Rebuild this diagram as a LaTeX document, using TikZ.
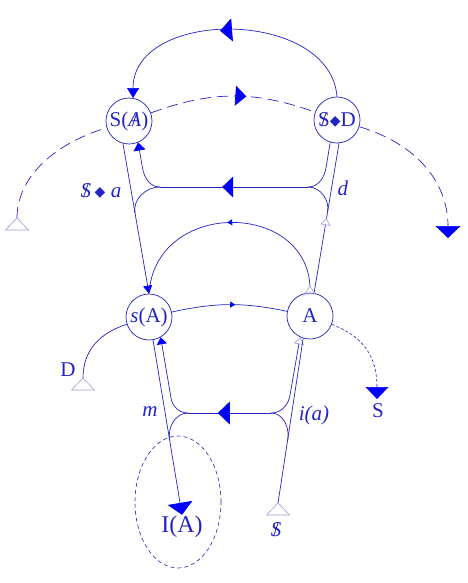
\documentclass[tikz,border=0pt]{standalone}
\usepackage{fontspec}
\setmainfont{Liberation Serif}
\newfontfamily\dejavu{DejaVu Sans}
\usetikzlibrary{arrows.meta, decorations.markings}
\definecolor{graphblue}{RGB}{35,35,195}
\definecolor{tipblue}{RGB}{0,0,250}
\definecolor{tailgrey}{RGB}{160,160,215}
\newcommand{\barS}{\ooalign{S\cr\hidewidth/\hidewidth}}
\newcommand{\barSit}{\ooalign{\textit{S}\cr\hidewidth/\hidewidth}}
\newcommand{\barA}{\ooalign{\textit{A}\cr\hidewidth/\hidewidth}}
\newcommand{\diam}{\raisebox{1pt}{\dejavu\fontsize{14}{14}\selectfont ◆}}
\newcommand{\tailtri}[3]{\draw[tailline] (#1) -- ++(-#2,-#3) -- ++(2*#2,0) -- cycle;}

\begin{document}
\begin{tikzpicture}[x=1pt, y=1pt, line width=0.7pt, color=graphblue,
  spot/.style={draw=graphblue, circle, minimum size=46pt, inner sep=0pt, font=\fontsize{21}{23}\selectfont},
  lbl/.style={inner sep=1pt, font=\fontsize{21}{23}\selectfont},
  tailline/.style={draw=tailgrey, line width=0.6pt},
  bigdash/.style={dash pattern=on 11pt off 6pt},
  endtip/.style 2 args={-{Triangle[width=#1, length=#2, color=tipblue]}},
  hollowtip/.style={-{Triangle[width=10pt, length=7pt, color=tailgrey, fill=white, line width=0.6pt]}},
  midtip/.style n args={3}{postaction={decorate}, decoration={markings,
      mark=at position #1 with {\arrow{Triangle[width=#2, length=#3, color=tipblue]}}}},
  midhollow/.style={postaction={decorate}, decoration={markings,
      mark=at position #1 with {\arrow{Triangle[width=10pt, length=7pt, color=tailgrey, fill=white, line width=0.6pt]}}}}
]
\useasboundingbox (0,0) rectangle (467,-583);

% the four places
\node[spot] (SA) at (129,-121) {S(\barA)};
\node[spot] (DS) at (337,-120) {\barS\diam D};
\node[spot] (sA) at (149,-317) {\textit{s}(A)};
\node[spot] (A)  at (310,-316) {A};

% free ends and joints
\coordinate (tLd) at (17,-218);
\coordinate (tD)  at (83,-378);
\coordinate (tS)  at (278,-503);
\coordinate (tAt) at (310,-286);
\coordinate (eRd) at (448,-238);
\coordinate (eS)  at (377,-399);
\coordinate (uL)  at (160,-187);
\coordinate (uR)  at (308,-187);
\coordinate (hUL) at (142.5,-168);
\coordinate (jUL) at (135,-213);
\coordinate (hUR) at (326,-168);
\coordinate (jUR) at (327.6,-212);
\coordinate (lL)  at (188,-413);
\coordinate (lR)  at (271,-413);
\coordinate (hLL) at (171,-398);
\coordinate (jLL) at (169.6,-440);
\coordinate (hLR) at (290,-395);
\coordinate (jLR) at (287.8,-440);

% labels
\node[lbl] (IA)  at (182,-527) {\fontsize{24}{26}\selectfont I(A)};
\node[lbl] (lSa) at (101,-191) {\barSit\,\diam\ \textit{a}};
\node[lbl] (ld)  at (343,-188) {\textit{d}};
\node[lbl] (lm)  at (150,-412) {\textit{m}};
\node[lbl] (lia) at (314,-415) {\textit{i(a)}};
\node[lbl] (lD)  at (68,-370) {D};
\node[lbl] (lS)  at (378,-411) {S};
\node[lbl] (lbS) at (276,-530) {\barSit};

% upper arc
\draw[endtip={12pt}{10pt}, midtip={0.55}{23pt}{12pt}] (DS.north) .. controls (330,-8) and (133,-8) .. (SA.80);

% dashed arc
\draw[bigdash] (tLd) .. controls (17,-180) and (50,-145) .. (SA);
\draw[bigdash, midtip={0.58}{20pt}{11pt}] (SA) to[bend left=20] (DS);
\draw[bigdash, endtip={25pt}{12pt}] (DS) .. controls (420,-145) and (448,-185) .. (eRd);

% upper band
\draw[midtip={0.58}{21pt}{11pt}] (uR) -- (uL);
\draw[endtip={12pt}{8pt}] (uL) to[out=180, in=-80] (hUL) -- (SA.293);
\draw (uL) to[out=180, in=100] (jUL);
\draw (uR) to[out=0, in=-100] (hUR) -- (DS.253);
\draw (uR) to[out=0, in=80] (jUR);
\draw[midhollow=0.5] (A.80) -- (DS.275);

% left vector
\draw[endtip={9pt}{8pt}] (SA.255) -- (sA.north);
\draw[endtip={25pt}{12pt}] (sA.280) -- (IA.north);
\draw[dash pattern=on 4pt off 3pt, line width=0.6pt] (178,-502) ellipse [x radius=43, y radius=66];

% middle arcs
\draw[midtip={0.5}{6pt}{5pt}] (tAt) .. controls (305,-200) and (155,-200) .. (sA.north);
\draw[midtip={0.55}{6pt}{5pt}] (sA) to[bend left=12] (A);

% lower band
\draw[midtip={0.64}{23pt}{12pt}] (lR) -- (lL);
\draw[endtip={10pt}{7pt}] (lL) to[out=180, in=-80] (hLL) -- (sA.300);
\draw (lL) to[out=180, in=100] (jLL);
\draw[hollowtip] (lR) to[out=0, in=-99] (hLR) -- (A.245);
\draw (lR) to[out=0, in=81] (jLR);
\draw (tS) -- (A.253);

% side strands
\draw (tD) .. controls (83,-350) and (100,-333) .. (sA);
\draw[densely dashed, line width=0.6pt, endtip={23pt}{12pt}] (A) .. controls (362,-336) and (377,-355) .. (eS);

% tails
\tailtri{tLd}{11.5}{12}
\tailtri{tD}{11.5}{12}
\tailtri{tS}{11.5}{12}
\tailtri{tAt}{5}{8}
\end{tikzpicture}
\end{document}
